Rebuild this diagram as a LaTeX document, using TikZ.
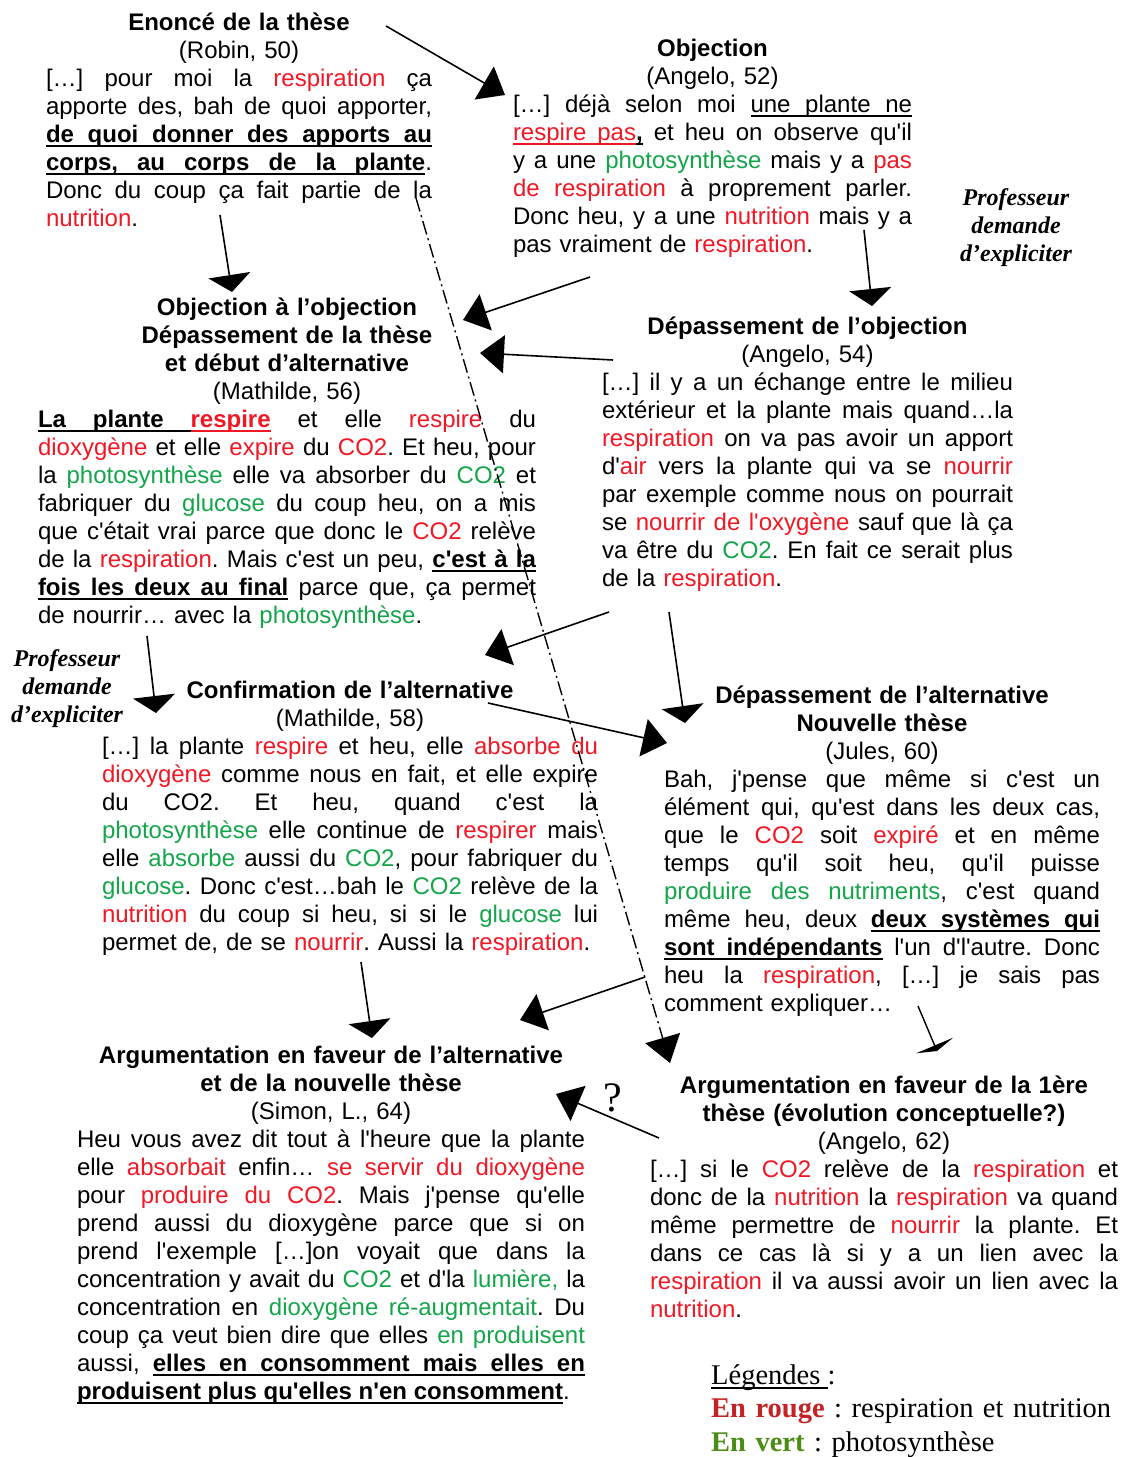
\documentclass[tikz,border=0pt]{standalone}
\usepackage{fontspec}
\setmainfont{Liberation Sans}[Ligatures=TeXOff]
\newfontfamily\seriffont{Liberation Serif}
\usetikzlibrary{arrows.meta}
\definecolor{tred}{RGB}{240,24,36}
\definecolor{tgreen}{RGB}{20,165,75}
\definecolor{lred}{RGB}{195,35,35}
\definecolor{lgreen}{RGB}{75,140,20}
\makeatletter
\newcommand\ulw[1]{\setbox\z@\hbox{#1}\rlap{\vrule height -2.5pt depth 4.5pt width\wd\z@}\box\z@}
\newcommand\uls{\leaders\vrule height -2.5pt depth 4.5pt\hskip\fontdimen2\font plus 1fil\relax}
\def\uln#1{\ul@loop#1 \ul@end}
\def\ul@loop#1 #2\ul@end{\ulw{#1}\ifx\relax#2\relax\else\uls\ul@loop#2\ul@end\fi}
\makeatother
\newcommand\R[1]{\textcolor{tred}{#1}}
\newcommand\G[1]{\textcolor{tgreen}{#1}}
\newcommand\BU[1]{{\bfseries\uln{#1}}}
\newcommand\jl[1]{\hbox to\linewidth{\spaceskip=\fontdimen2\font plus 1fil\relax\xspaceskip=\spaceskip #1}}
\newcommand\lastl[1]{\hbox{#1}}
\newcommand\ttl[1]{\hbox to\linewidth{\hfil\bfseries #1\hfil}}
\newcommand\rfl[1]{\hbox to\linewidth{\hfil #1\hfil}}
\tikzset{
  blk/.style={anchor=base west, inner sep=0pt, outer sep=0pt, font=\fontsize{24}{28}\selectfont\frenchspacing},
  prof/.style={align=center, inner sep=0pt, font=\seriffont\bfseries\itshape\fontsize{24}{28}\selectfont},
  arr/.style={line width=1.6pt, -{Triangle[length=24pt,width=38pt]}},
  varr/.style={line width=1.6pt, -{Triangle[length=17pt,width=42pt]}},
  sarr/.style={line width=1.4pt, -{Triangle[length=6pt,width=40pt]}},
  dd/.style={line width=1.4pt, dash pattern=on 14pt off 4pt on 2pt off 4pt, -{Triangle[length=26pt,width=36pt]}}
}
\begin{document}
\frenchspacing
\begin{tikzpicture}[x=1pt,y=-1pt]
\fill[white] (0,0) rectangle (1126,1457);
\useasboundingbox (0,0) rectangle (1126,1457);

% Block 1
\node[blk,text width=386pt] (b1) at (46,30) {%
\ttl{Enoncé de la thèse}
\rfl{(Robin, 50)}
\jl{[…] pour moi la \R{respiration} ça}
\jl{apporte des, bah de quoi apporter,}
\jl{\BU{de quoi donner des apports au}}
\jl{\BU{corps, au corps de la plante}.}
\jl{Donc du coup ça fait partie de la}
\lastl{\R{nutrition}.}};

% Block 2
\node[blk,text width=399pt] (b2) at (513,56) {%
\ttl{Objection}
\rfl{(Angelo, 52)}
\jl{[…] déjà selon moi \uln{une plante ne}}
\jl{\textcolor{tred}{\uln{respire pas}}\uln{\textbf{,}} et heu on observe qu'il}
\jl{y a une \G{photosynthèse} mais y a \R{pas}}
\jl{\R{de respiration} à proprement parler.}
\jl{Donc heu, y a une \R{nutrition} mais y a}
\lastl{pas vraiment de \R{respiration}.}};

% Block 3
\node[blk,text width=498pt] (b3) at (38,315) {%
\ttl{Objection à l’objection}
\ttl{Dépassement de la thèse}
\ttl{et début d’alternative}
\rfl{(Mathilde, 56)}
\jl{{\bfseries\uln{La plante }}\textcolor{tred}{\bfseries\uln{respire}} et elle \R{respire} du}
\jl{\R{dioxygène} et elle \R{expire} du \R{CO2}. Et heu, pour}
\jl{la \G{photosynthèse} elle va absorber du \G{CO2} et}
\jl{fabriquer du \G{glucose} du coup heu, on a mis}
\jl{que c'était vrai parce que donc le \R{CO2} relève}
\jl{de la \R{respiration}. Mais c'est un peu, \BU{c'est à la}}
\jl{\BU{fois les deux au final} parce que, ça permet}
\lastl{de nourrir… avec la \G{photosynthèse}.}};

% Block 4
\node[blk,text width=411pt] (b4) at (602,334) {%
\ttl{Dépassement de l’objection}
\rfl{(Angelo, 54)}
\jl{[…] il y a un échange entre le milieu}
\jl{extérieur et la plante mais quand…la}
\jl{\R{respiration} on va pas avoir un apport}
\jl{d'\R{air} vers la plante qui va se \R{nourrir}}
\jl{par exemple comme nous on pourrait}
\jl{se \R{nourrir de l'oxygène} sauf que là ça}
\jl{va être du \G{CO2}. En fait ce serait plus}
\lastl{de la \R{respiration}.}};

% Block 5
\node[blk,text width=496pt] (b5) at (102,698) {%
\ttl{Confirmation de l’alternative}
\rfl{(Mathilde, 58)}
\jl{[…] la plante \R{respire} et heu, elle \R{absorbe du}}
\jl{\R{dioxygène} comme nous en fait, et elle expire}
\jl{du CO2. Et heu, quand c'est la}
\jl{\G{photosynthèse} elle continue de \R{respirer} mais}
\jl{elle \G{absorbe} aussi du \G{CO2}, pour fabriquer du}
\jl{\G{glucose}. Donc c'est…bah le \G{CO2} relève de la}
\jl{\R{nutrition} du coup si heu, si si le \G{glucose} lui}
\lastl{permet de, de se \R{nourrir}. Aussi la \R{respiration}.}};

% Block 6
\node[blk,text width=436pt] (b6) at (664,703) {%
\ttl{Dépassement de l’alternative}
\ttl{Nouvelle thèse}
\rfl{(Jules, 60)}
\jl{Bah, j'pense que même si c'est un}
\jl{élément qui, qu'est dans les deux cas,}
\jl{que le \R{CO2} soit \R{expiré} et en même}
\jl{temps qu'il soit heu, qu'il puisse}
\jl{\G{produire des nutriments}, c'est quand}
\jl{même heu, deux \BU{deux systèmes qui}}
\jl{\BU{sont indépendants} l'un d'l'autre. Donc}
\jl{heu la \R{respiration}, […] je sais pas}
\lastl{comment expliquer…}};

% Block 7
\node[blk,text width=508pt] (b7) at (77,1063) {%
\ttl{Argumentation en faveur de l’alternative}
\ttl{et de la nouvelle thèse}
\rfl{(Simon, L., 64)}
\jl{Heu vous avez dit tout à l'heure que la plante}
\jl{elle \R{absorbait} enfin… \R{se servir du dioxygène}}
\jl{pour \R{produire du CO2}. Mais j'pense qu'elle}
\jl{prend aussi du dioxygène parce que si on}
\jl{prend l'exemple […]on voyait que dans la}
\jl{concentration y avait du \G{CO2} et d'la \G{lumière,} la}
\jl{concentration en \G{dioxygène ré-augmentait}. Du}
\jl{coup ça veut bien dire que elles \G{en produisent}}
\jl{aussi, \BU{elles en consomment mais elles en}}
\lastl{\BU{produisent plus qu'elles n'en consomment}.}};

% Block 8
\node[blk,text width=468pt] (b8) at (650,1093) {%
\ttl{Argumentation en faveur de la 1ère}
\ttl{thèse (évolution conceptuelle?)}
\rfl{(Angelo, 62)}
\jl{[…] si le \R{CO2} relève de la \R{respiration} et}
\jl{donc de la \R{nutrition} la \R{respiration} va quand}
\jl{même permettre de \R{nourrir} la plante. Et}
\jl{dans ce cas là si y a un lien avec la}
\jl{\R{respiration} il va aussi avoir un lien avec la}
\lastl{\R{nutrition}.}};

% Professeur notes
\node[prof] (p1) at (1016,228) {Professeur\\demande\\d’expliciter};
\node[prof] (p2) at (67,689) {Professeur\\demande\\d’expliciter};

% Question mark
\node[font=\seriffont\fontsize{42}{42}\selectfont, inner sep=0pt] (qm) at (613,1098) {?};

% Legend
\node[anchor=base west, inner sep=0pt, text width=420pt, font=\seriffont\fontsize{28.5}{33.5}\selectfont\frenchspacing] (leg) at (711,1384) {%
\hbox{\uln{Légendes }:}
\hbox{\textcolor{lred}{\bfseries En rouge} : respiration et nutrition}
\hbox{\textcolor{lgreen}{\bfseries En vert} : photosynthèse}};

% Arrow end points
\coordinate (a1s) at (386,26);   \coordinate (a1e) at (505,95);
\coordinate (a2s) at (220,215);  \coordinate (a2e) at (232,292);
\coordinate (a3s) at (590,277);  \coordinate (a3e) at (463,320);
\coordinate (a4s) at (864,230);  \coordinate (a4e) at (872,306);
\coordinate (a5s) at (613,360);  \coordinate (a5e) at (480,353);
\coordinate (a6s) at (147,636);  \coordinate (a6e) at (156,713);
\coordinate (a7s) at (609,612);  \coordinate (a7e) at (485,655);
\coordinate (a8s) at (669,612);  \coordinate (a8e) at (685,723);
\coordinate (a9s) at (488,703);  \coordinate (a9e) at (667,743);
\coordinate (a10s) at (361,962); \coordinate (a10e) at (372,1038);
\coordinate (a11s) at (645,977); \coordinate (a11e) at (520,1020);
\coordinate (a12s) at (416,198); \coordinate (a12e) at (670,1063);
\coordinate (a13s) at (918,1006);\coordinate (a13e) at (937,1051);
\coordinate (a14s) at (659,1138);\coordinate (a14e) at (556,1094);

\draw[arr] (a1s) -- (a1e);
\draw[varr] (a2s) -- (a2e);
\draw[arr] (a3s) -- (a3e);
\draw[varr] (a4s) -- (a4e);
\draw[arr] (a5s) -- (a5e);
\draw[varr] (a6s) -- (a6e);
\draw[arr] (a7s) -- (a7e);
\draw[varr] (a8s) -- (a8e);
\draw[arr] (a9s) -- (a9e);
\draw[varr] (a10s) -- (a10e);
\draw[arr] (a11s) -- (a11e);
\draw[dd] (a12s) -- (a12e);
\draw[sarr] (a13s) -- (a13e);
\draw[arr] (a14s) -- (a14e);
\end{tikzpicture}
\end{document}
